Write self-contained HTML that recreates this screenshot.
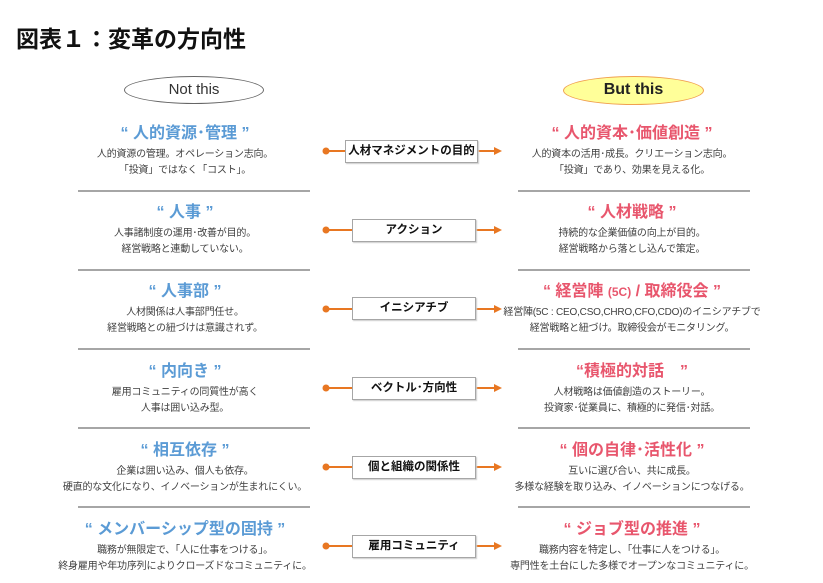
<!DOCTYPE html>
<html><head><meta charset="utf-8"><style>
*{margin:0;padding:0;box-sizing:border-box}
body{width:823px;height:583px;background:#fff;position:relative;overflow:hidden;font-family:"Liberation Sans","Noto Sans CJK JP",sans-serif;}
.a{position:absolute}
.title{left:16px;top:20px;font-size:23px;font-weight:bold;color:#111;letter-spacing:0px}
.col{position:absolute;text-align:center;white-space:nowrap}
.h{font-size:16px;font-weight:bold;line-height:20px}
.b{font-size:10px;color:#404040;line-height:16px;margin-top:3px;letter-spacing:-0.2px}
.bl{color:#5b9bd5}.pk{color:#e8566d}
.ln{position:absolute;height:2px;background:#a6a6a6}
.box{position:absolute;height:23px;border:1px solid #a6a6a6;background:#fff;font-size:11.5px;font-weight:bold;text-align:center;line-height:21px;color:#111;box-shadow:1px 1px 1px #ccc}
</style></head><body>
<div class="a title">図表１：変革の方向性</div>
<div class="a" style="left:124px;top:76px;width:140px;height:28px;border:1.5px solid #666;border-radius:50%;text-align:center;line-height:25px;font-size:15px;color:#333">Not this</div>
<div class="a" style="left:563px;top:76px;width:141px;height:29px;border:1.5px solid #f0a050;border-radius:50%;background:#ffff99;text-align:center;line-height:26px;font-size:16px;font-weight:bold;color:#222">But this</div>

<svg class="a" style="left:0;top:0" width="823" height="583">
<g stroke="#e87722" stroke-width="2" fill="#e87722">
<g id="c"><circle cx="326" cy="151" r="3.5" stroke="none"/><line x1="326" y1="151" x2="352" y2="151"/><line x1="476" y1="151" x2="496" y2="151"/><polygon points="502,151 494,147 494,155" stroke="none"/></g>
<use href="#c" y="79"/><use href="#c" y="158"/><use href="#c" y="237"/><use href="#c" y="316"/><use href="#c" y="395"/>
</g></svg>

<div class="box" style="left:345px;top:140px;width:133px">人材マネジメントの目的</div>
<div class="box" style="left:352px;top:219px;width:124px">アクション</div>
<div class="box" style="left:352px;top:297px;width:124px">イニシアチブ</div>
<div class="box" style="left:352px;top:377px;width:124px">ベクトル･方向性</div>
<div class="box" style="left:352px;top:456px;width:124px">個と組織の関係性</div>
<div class="box" style="left:352px;top:535px;width:124px">雇用コミュニティ</div>

<div class="ln" style="left:78px;top:190px;width:232px"></div>
<div class="ln" style="left:78px;top:269px;width:232px"></div>
<div class="ln" style="left:78px;top:348px;width:232px"></div>
<div class="ln" style="left:78px;top:427px;width:232px"></div>
<div class="ln" style="left:78px;top:506px;width:232px"></div>
<div class="ln" style="left:518px;top:190px;width:232px"></div>
<div class="ln" style="left:518px;top:269px;width:232px"></div>
<div class="ln" style="left:518px;top:348px;width:232px"></div>
<div class="ln" style="left:518px;top:427px;width:232px"></div>
<div class="ln" style="left:518px;top:506px;width:232px"></div>

<div class="col" style="left:35px;width:300px;top:124px"><div class="h bl">“ 人的資源･管理 ”</div><div class="b">人的資源の管理。オペレーション志向。<br>「投資」ではなく「コスト」。</div></div>
<div class="col" style="left:35px;width:300px;top:203px"><div class="h bl">“ 人事 ”</div><div class="b">人事諸制度の運用･改善が目的。<br>経営戦略と連動していない。</div></div>
<div class="col" style="left:35px;width:300px;top:282px"><div class="h bl">“ 人事部 ”</div><div class="b">人材関係は人事部門任せ。<br>経営戦略との紐づけは意識されず。</div></div>
<div class="col" style="left:35px;width:300px;top:362px"><div class="h bl">“ 内向き ”</div><div class="b">雇用コミュニティの同質性が高く<br>人事は囲い込み型。</div></div>
<div class="col" style="left:35px;width:300px;top:441px"><div class="h bl">“ 相互依存 ”</div><div class="b">企業は囲い込み、個人も依存。<br>硬直的な文化になり、イノベーションが生まれにくい。</div></div>
<div class="col" style="left:35px;width:300px;top:520px"><div class="h bl">“ メンバーシップ型の固持 ”</div><div class="b">職務が無限定で、「人に仕事をつける」。<br>終身雇用や年功序列によりクローズドなコミュニティに。</div></div>

<div class="col" style="left:482px;width:300px;top:124px"><div class="h pk">“ 人的資本･価値創造 ”</div><div class="b">人的資本の活用･成長。クリエーション志向。<br>「投資」であり、効果を見える化。</div></div>
<div class="col" style="left:482px;width:300px;top:203px"><div class="h pk">“ 人材戦略 ”</div><div class="b">持続的な企業価値の向上が目的。<br>経営戦略から落とし込んで策定。</div></div>
<div class="col" style="left:482px;width:300px;top:282px"><div class="h pk">“ 経営陣 <span style="font-size:12px">(5C)</span> / 取締役会 ”</div><div class="b">経営陣(5C : CEO,CSO,CHRO,CFO,CDO)のイニシアチブで<br>経営戦略と紐づけ。取締役会がモニタリング。</div></div>
<div class="col" style="left:482px;width:300px;top:362px"><div class="h pk">“積極的対話　”</div><div class="b">人材戦略は価値創造のストーリー。<br>投資家･従業員に、積極的に発信･対話。</div></div>
<div class="col" style="left:482px;width:300px;top:441px"><div class="h pk">“ 個の自律･活性化 ”</div><div class="b">互いに選び合い、共に成長。<br>多様な経験を取り込み、イノベーションにつなげる。</div></div>
<div class="col" style="left:482px;width:300px;top:520px"><div class="h pk">“ ジョブ型の推進 ”</div><div class="b">職務内容を特定し、「仕事に人をつける」。<br>専門性を土台にした多様でオープンなコミュニティに。</div></div>
</body></html>
